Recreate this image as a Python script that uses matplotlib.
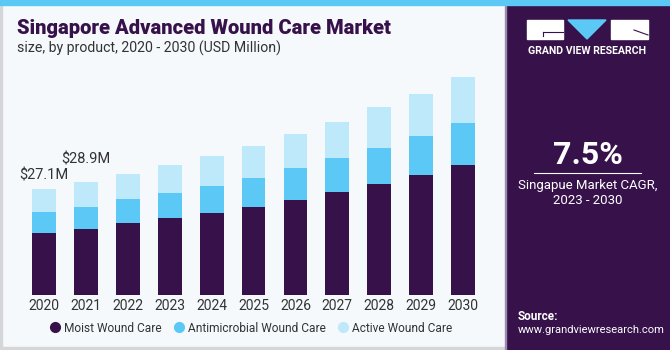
import matplotlib.pyplot as plt
import numpy as np
from matplotlib.patches import Rectangle, Polygon
from matplotlib.lines import Line2D
from matplotlib.colors import LinearSegmentedColormap

years = ["2020", "2021", "2022", "2023", "2024", "2025", "2026", "2027", "2028", "2029", "2030"]
moist = [15.9, 17.0, 18.5, 19.6, 21.0, 22.6, 24.3, 26.3, 28.3, 30.7, 33.2]
antimicrobial = [5.2, 5.5, 6.0, 6.5, 6.9, 7.4, 8.1, 8.7, 9.3, 9.9, 10.7]
active = [6.0, 6.4, 6.5, 7.1, 7.6, 8.1, 8.8, 9.3, 10.4, 10.9, 11.8]
series_names = ["Moist Wound Care", "Antimicrobial Wound Care", "Active Wound Care"]
value_labels = {0: "$27.1M", 1: "$28.9M"}

c_moist = "#37114A"
c_anti = "#5BC8F5"
c_active = "#BDE9FA"
bg = "#F5F9FC"
panel = "#37124A"

W, H = 670, 350
def fx(x):
    return x / W
def fy(y):
    return 1 - y / H

plt.rcParams['font.family'] = ['Roboto', 'DejaVu Sans']

fig = plt.figure(figsize=(6.7, 3.5), dpi=100, facecolor=bg)

# frame pieces
fig.patches.append(Rectangle((0, fy(350)), fx(2), 1, transform=fig.transFigure, color="#D4D6D8", zorder=0))
fig.patches.append(Rectangle((0, 0), 1, 3 / H, transform=fig.transFigure, color="#D4D6D8", zorder=0))
fig.patches.append(Rectangle((fx(506), 0), 1, fy(5), transform=fig.transFigure, color=panel, zorder=1))
fig.patches.append(Rectangle((fx(505), 0), fx(1.2), fy(5), transform=fig.transFigure, color="#9C8AAE", zorder=1))
fig.patches.append(Rectangle((0, fy(5)), 1, 5 / H, transform=fig.transFigure, color=c_anti, zorder=2))

# gradient at bottom of right panel
gax = fig.add_axes([fx(506.5), 0, 1 - fx(506.5), fy(280)])
grad = np.linspace(0, 1, 100)[:, None]
cmap = LinearSegmentedColormap.from_list("g", [panel, "#4A5C98", "#5A9CD6"])
gax.imshow(grad, aspect="auto", cmap=cmap, extent=[0, 1, 1, 0], origin="upper")
for k in range(-6, 14):
    gax.plot([k * 0.09, 0.5 + (k - 4) * 0.2], [0.0, 0.75], color="white", lw=0.4, alpha=0.18)
for yy in [0.12, 0.24, 0.36, 0.47, 0.57, 0.66]:
    gax.plot([0, 1], [yy, yy + 0.02], color="white", lw=0.4, alpha=0.15)
gax.set_xlim(0, 1)
gax.set_ylim(0, 1)
gax.axis("off")

# main chart
ax = fig.add_axes([fx(18.9), fy(295), fx(488.2) - fx(18.9), fy(60.3) - fy(295)])
ax.set_facecolor(bg)
x = np.arange(len(years))
w = 0.57
b1 = np.array(moist)
b2 = b1 + np.array(antimicrobial)
ax.bar(x, moist, w, color=c_moist)
ax.bar(x, antimicrobial, w, bottom=b1, color=c_anti)
ax.bar(x, active, w, bottom=b2, color=c_active)
totals = b2 + np.array(active)
offsets = {0: 13, 1: 22}
for i, lab in value_labels.items():
    ax.annotate(lab, (x[i], totals[i]), xytext=(0, offsets[i]), textcoords="offset pixels",
                ha="center", va="center", fontsize=10.5, color="#333333")
ax.set_xlim(-0.6, 10.6)
ax.set_ylim(0, 60)
ax.set_xticks(x)
ax.set_xticklabels(years, fontsize=10, color="#333333")
ax.tick_params(axis="x", length=0, pad=3)
ax.set_yticks([])
for s in ax.spines.values():
    s.set_visible(False)

# legend
handles = [Line2D([], [], marker="o", ls="", ms=7, color=c) for c in (c_moist, c_anti, c_active)]
fig.legend(handles, series_names, loc="center", bbox_to_anchor=(fx(250), fy(328)), ncol=3,
           frameon=False, fontsize=8.6, handletextpad=0.1, columnspacing=0.9,
           labelcolor="#333333", handlelength=1.2)

# titles
fig.text(fx(17), fy(28), "Singapore Advanced Wound Care Market", fontsize=14.5, fontweight="heavy",
         color="#37114A", va="center", ha="left")
fig.text(fx(17), fy(48), "size, by product, 2020 - 2030 (USD Million)", fontsize=10.2,
         color="#333333", va="center", ha="left")

# logo
fig.patches.append(Rectangle((fx(527), fy(39)), fx(36), 19 / H, transform=fig.transFigure, color="white", zorder=3))
fig.patches.append(Rectangle((fx(611), fy(39)), fx(37), 19 / H, transform=fig.transFigure, color="white", zorder=3))
fig.patches.append(Polygon([(fx(568), fy(20)), (fx(606), fy(20)), (fx(587), fy(39))], closed=True,
                           transform=fig.transFigure, color=c_anti, zorder=3))
fig.lines.append(Line2D([fx(543), fx(563)], [fy(32), fy(32)], transform=fig.transFigure, color=panel, lw=0.8, zorder=4))
fig.lines.append(Line2D([fx(543), fx(543)], [fy(32), fy(36)], transform=fig.transFigure, color=panel, lw=0.8, zorder=4))
fig.lines.append(Line2D([fx(634), fx(648)], [fy(30), fy(35)], transform=fig.transFigure, color=panel, lw=0.8, zorder=4))
fig.text(fx(587), fy(51), "GRAND VIEW RESEARCH", fontsize=7.6, fontweight="bold", color="white",
         ha="center", va="center")

# CAGR
fig.text(fx(588), fy(155), "7.5%", fontsize=23, fontweight="bold", color="white", ha="center", va="center")
fig.lines.append(Line2D([fx(534), fx(641)], [fy(173), fy(173)], transform=fig.transFigure, color="white", lw=0.8, zorder=4))
fig.text(fx(588), fy(185), "Singapue Market CAGR,", fontsize=9.5, color="white", ha="center", va="center")
fig.text(fx(588), fy(201), "2023 - 2030", fontsize=9.5, color="white", ha="center", va="center")

fig.text(fx(518), fy(316), "Source:", fontsize=8.5, fontweight="bold", color="white", ha="left", va="center")
fig.text(fx(518), fy(330), "www.grandviewresearch.com", fontsize=8, color="white", ha="left", va="center")

fig.savefig("out.png", dpi=100, facecolor=bg)
